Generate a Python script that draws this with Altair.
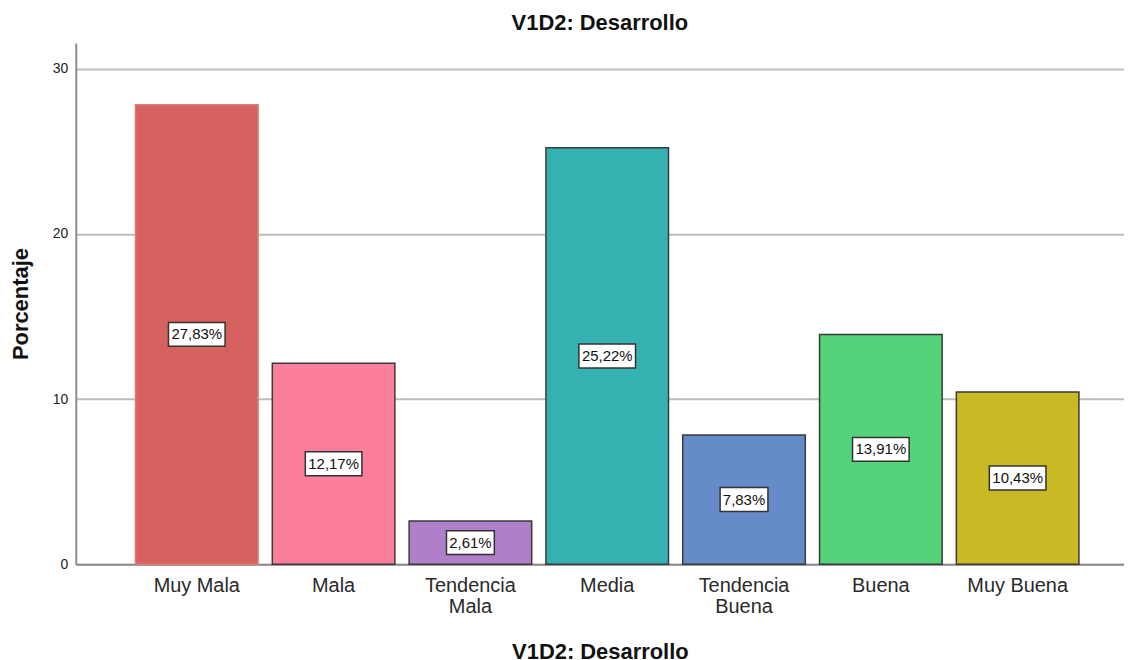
import altair as alt
import pandas as pd

categories = ["Muy Mala", "Mala", "Tendencia Mala", "Media", "Tendencia Buena", "Buena", "Muy Buena"]
values = [27.83, 12.17, 2.61, 25.22, 7.83, 13.91, 10.43]
labels = ["27,83%", "12,17%", "2,61%", "25,22%", "7,83%", "13,91%", "10,43%"]
colors = ["#d6625f", "#fb7f9c", "#b07fca", "#36b1b1", "#668bc9", "#55d37b", "#c9b925"]
strokes = ["#e07a78", "#3a3a3a", "#3a3a3a", "#3a3a3a", "#3a3a3a", "#3a3a3a", "#3a3a3a"]
y_ticks = [0, 10, 20, 30]

df = pd.DataFrame({"cat": categories, "val": values, "lab": labels})

FONT = "Liberation Sans"
YMAX = 31.56
H = 523
half = 12 * YMAX / H

xscale = alt.Scale(domain=categories, paddingInner=0.104, paddingOuter=0.383, align=0.57)
yscale = alt.Scale(domain=[0, YMAX], nice=False, zero=True)

x_enc = alt.X("cat:N", sort=categories, scale=xscale,
              axis=alt.Axis(title="V1D2: Desarrollo", labelAngle=0, labelFontSize=20,
                            labelFont=FONT, labelColor="#2a2a2a", labelPadding=11,
                            labelExpr="indexof(datum.label, 'Tendencia') == 0 ? split(datum.label, ' ') : datum.label",
                            labelLineHeight=21,
                            ticks=False, domainColor="#8c8c8c", domainWidth=2,
                            titleFont=FONT, titleFontSize=22, titleFontWeight="bold",
                            titleColor="#111111", titlePadding=26))

bars = alt.Chart(df).mark_bar(strokeWidth=1.5).encode(
    x=x_enc,
    y=alt.Y("val:Q", scale=yscale,
            axis=alt.Axis(title="Porcentaje", values=y_ticks, grid=True, gridColor="#bdbdbd",
                          gridWidth=2, ticks=False, labelPadding=8, labelFontSize=14,
                          labelFont=FONT, labelColor="#222222", domainColor="#8c8c8c",
                          domainWidth=2, titleFont=FONT, titleFontSize=22,
                          titleFontWeight="bold", titleColor="#111111", titlePadding=20)),
    fill=alt.Fill("cat:N", scale=alt.Scale(domain=categories, range=colors), legend=None),
    stroke=alt.Stroke("cat:N", scale=alt.Scale(domain=categories, range=strokes), legend=None),
)

boxes = alt.Chart(df).transform_calculate(
    lo=f"datum.val / 2 - {half}",
    hi=f"datum.val / 2 + {half}",
    w="length(datum.lab) * 8.8 + 4",
).mark_bar(fill="white", stroke="#333333", strokeWidth=1.5).encode(
    x=alt.X("cat:N", sort=categories, scale=xscale),
    y=alt.Y("lo:Q", scale=yscale),
    y2="hi:Q",
    size=alt.Size("w:Q", scale=None, legend=None),
)

texts = alt.Chart(df).transform_calculate(
    mid="datum.val / 2"
).mark_text(font=FONT, fontSize=15, color="#111111", baseline="middle", align="center").encode(
    x=alt.X("cat:N", sort=categories, scale=xscale),
    y=alt.Y("mid:Q", scale=yscale),
    text="lab:N",
)

chart = alt.layer(bars, boxes, texts).properties(
    width=1052, height=H,
    title=alt.TitleParams("V1D2: Desarrollo", font=FONT, fontSize=22, fontWeight="bold",
                          color="#111111", anchor="middle", offset=8),
    autosize=alt.AutoSizeParams(type="none"),
    padding={"left": 68, "top": 34, "right": 0, "bottom": 100},
).configure(background="white", view=alt.ViewConfig(stroke=None))

chart.save("out.html", embed_options={"renderer": "svg", "actions": False})
